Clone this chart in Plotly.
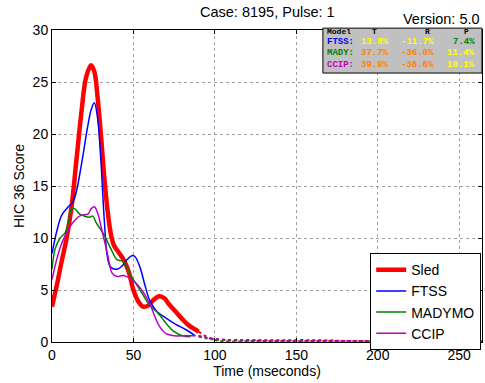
import plotly.graph_objects as go

# ---- data ----
sled_t = [0, 3, 6, 9, 12, 15, 18, 21, 24, 26, 28, 30, 32, 34, 36, 38, 41, 44, 47, 50, 53, 56, 59, 62, 66, 69, 72, 76, 80, 84, 88, 90]
sled_v = [3.4, 5.5, 7.8, 10.0, 13.0, 17.5, 22.0, 25.5, 26.6, 26.0, 23.5, 20.0, 16.0, 12.8, 10.5, 9.3, 8.6, 7.9, 6.8, 5.0, 3.9, 3.4, 3.5, 4.0, 4.4, 4.2, 3.6, 2.9, 2.2, 1.6, 1.2, 1.0]

ftss_t = [0, 3, 6, 10, 13, 15, 18, 22, 24, 26, 28, 30, 32, 34, 36, 40, 43, 46, 49, 51, 54, 57, 60, 64, 70, 76, 82, 88]
ftss_v = [8.5, 10.7, 12.2, 13.0, 13.5, 14.5, 17.0, 20.8, 22.3, 23.0, 21.5, 17.5, 12.0, 8.2, 7.2, 7.0, 7.3, 7.9, 8.3, 8.2, 7.2, 5.5, 4.0, 3.0, 2.3, 1.7, 1.2, 0.6]

mady_t = [0, 2, 5, 8, 10, 12, 14, 17, 20, 23, 25, 27, 30, 33, 36, 40, 43, 45, 48, 52, 56, 60, 65, 70, 75, 80, 85]
mady_v = [7.0, 9.0, 10.0, 10.5, 11.5, 12.8, 12.8, 12.3, 12.1, 12.0, 12.1, 11.5, 10.8, 10.0, 9.0, 7.9, 7.8, 7.5, 6.5, 5.5, 4.5, 3.5, 2.8, 1.8, 1.0, 0.6, 0.5]

ccip_t = [0, 3, 6, 10, 14, 18, 22, 24, 26, 28, 31, 34, 37, 40, 44, 48, 52, 56, 60, 63, 66, 70, 75, 82, 88]
ccip_v = [6.0, 8.0, 9.5, 10.8, 11.7, 12.2, 12.3, 12.8, 13.0, 12.4, 10.5, 8.5, 6.6, 6.3, 6.4, 6.1, 5.6, 4.8, 3.7, 2.5, 1.5, 0.8, 0.6, 0.6, 0.6]

tail_t = [90, 100, 130, 160, 190, 220, 265]
sled_tail = [1.0, 0.2, 0.1, 0.1, 0.1, 0.1, 0.1]
ftss_tail = [0.6, 0.3, 0.15, 0.15, 0.1, 0.1, 0.1]
mady_tail = [0.5, 0.2, 0.1, 0.1, 0.1, 0.1, 0.1]
ccip_tail = [0.6, 0.3, 0.2, 0.2, 0.1, 0.1, 0.1]

x_ticks = [0, 50, 100, 150, 200, 250]
y_ticks = [0, 5, 10, 15, 20, 25, 30]

table_header = ["Model", "T", "R", "P"]
table_models = ["FTSS:", "MADY:", "CCIP:"]
table_T = ["13.8%", "37.7%", "39.9%"]
table_R = ["-11.7%", "-36.0%", "-38.6%"]
table_P = ["7.4%", "11.4%", "10.1%"]

RED, BLUE, GREEN, MAG = "#ff0000", "#0000ff", "#008000", "#c000c0"
YEL, ORA = "#ffff00", "#ff8000"
model_colors = [BLUE, GREEN, MAG]
T_colors = [YEL, ORA, ORA]
R_colors = [YEL, ORA, ORA]
P_colors = [GREEN, YEL, YEL]

fig = go.Figure()

series = [("Sled", sled_t, sled_v, sled_tail, RED, 4.5),
          ("FTSS", ftss_t, ftss_v, ftss_tail, BLUE, 1.5),
          ("MADYMO", mady_t, mady_v, mady_tail, GREEN, 1.5),
          ("CCIP", ccip_t, ccip_v, ccip_tail, MAG, 1.5)]

for name, t, v, tail, c, w in series:
    fig.add_trace(go.Scatter(x=tail_t, y=tail, mode="lines", showlegend=False,
                             line=dict(color=c, width=2 if w > 2 else 1.5, dash="dot", shape="spline")))
for name, t, v, tail, c, w in series:
    fig.add_trace(go.Scatter(x=t, y=v, mode="lines", name=name,
                             line=dict(color=c, width=w, shape="spline", smoothing=1.0)))

axis_common = dict(showline=True, linecolor="black", linewidth=1, mirror="ticks",
                   ticks="inside", ticklen=4, tickcolor="black",
                   showgrid=True, gridcolor="#a0a0a0", griddash="dot", gridwidth=1,
                   zeroline=False, tickfont=dict(family="Liberation Sans", size=14, color="black"))

fig.update_xaxes(range=[0, 264], tickvals=x_ticks, **axis_common,
                 title=dict(text="Time (mseconds)", font=dict(family="Liberation Sans", size=14, color="black"), standoff=2))
fig.update_yaxes(range=[0, 30], tickvals=y_ticks, **axis_common,
                 title=dict(text="HIC 36 Score", font=dict(family="Liberation Sans", size=14, color="black"), standoff=4))

# table box
fig.add_shape(type="rect", xref="paper", yref="paper", x0=0.63, x1=1.0, y0=0.862, y1=1.006,
              fillcolor="#c0c0c0", line=dict(color="black", width=1), layer="above")

mono = "Liberation Mono"
hdr_x = [0.635, 0.751, 0.874, 0.965]
hdr_anchor = ["left", "center", "center", "center"]
col_x = [0.635, 0.751, 0.851, 0.988]
col_anchor = ["left", "center", "center", "right"]
row_y = [0.995, 0.962, 0.926, 0.888]
for j, h in enumerate(table_header):
    fig.add_annotation(xref="paper", yref="paper", x=hdr_x[j], y=row_y[0], text="<b>%s</b>" % h,
                       showarrow=False, xanchor=hdr_anchor[j], yanchor="middle",
                       font=dict(family=mono, size=8, color="black"))
for i in range(3):
    vals = [table_models[i], table_T[i], table_R[i], table_P[i]]
    cols = [model_colors[i], T_colors[i], R_colors[i], P_colors[i]]
    for j in range(4):
        fig.add_annotation(xref="paper", yref="paper", x=col_x[j], y=row_y[i + 1],
                           text="<b>%s</b>" % vals[j], showarrow=False,
                           xanchor=col_anchor[j], yanchor="middle",
                           font=dict(family=mono, size=9, color=cols[j]))

fig.add_annotation(xref="paper", yref="paper", x=0.5, y=1.0, yshift=18, text="Case: 8195, Pulse: 1",
                   showarrow=False, xanchor="center", yanchor="middle",
                   font=dict(family="Liberation Sans", size=14.5, color="black"))
fig.add_annotation(xref="paper", yref="paper", x=1.0, y=1.0, text="Version: 5.0",
                   showarrow=False, xanchor="right", yanchor="bottom", yshift=1,
                   font=dict(family="Liberation Sans", size=14.5, color="black"))

fig.update_layout(
    width=485, height=383,
    margin=dict(l=52, r=3, t=30, b=41),
    paper_bgcolor="white", plot_bgcolor="white",
    showlegend=True,
    legend=dict(x=0.74, y=0.285, xanchor="left", yanchor="top",
                bgcolor="white", bordercolor="black", borderwidth=1,
                font=dict(family="Liberation Sans", size=14, color="black"),
                itemwidth=30, tracegroupgap=0),
)

fig.write_html("out.html", config={"displayModeBar": False},
               post_script="document.body.style.margin='0';")
